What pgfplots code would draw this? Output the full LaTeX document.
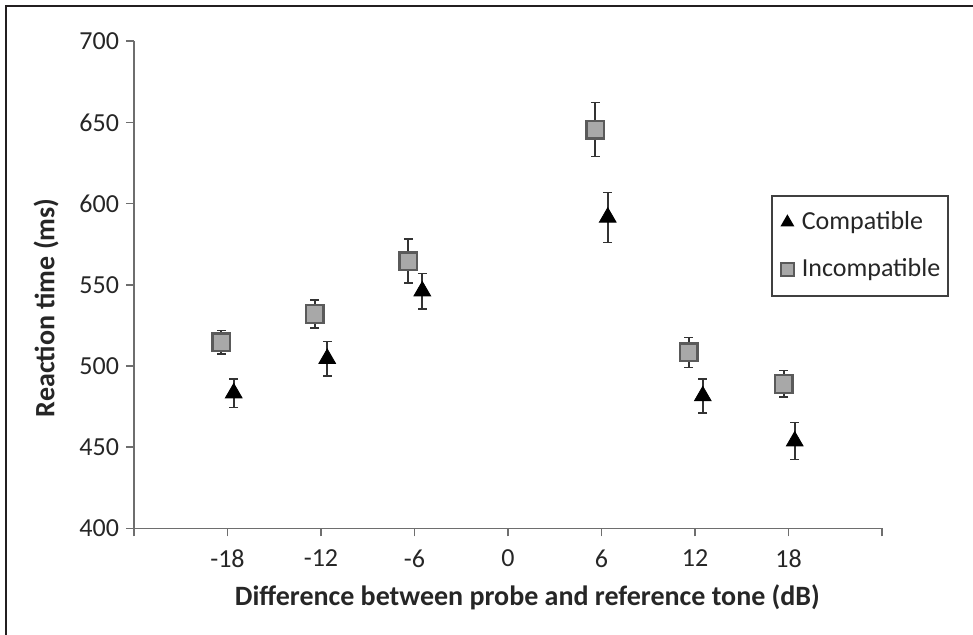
\documentclass[border=0pt]{standalone}
\usepackage{fontspec}
\setmainfont{Carlito}
\usepackage{pgfplots}
\pgfplotsset{compat=1.18}
\definecolor{axisgray}{HTML}{6E6E6E}
\definecolor{sqfill}{HTML}{A8A8A8}
\definecolor{sqdraw}{HTML}{5A5A5A}
\definecolor{txt}{HTML}{262626}
\definecolor{frame}{HTML}{231F20}

\begin{document}
\begin{tikzpicture}
\begin{axis}[
    scale only axis,
    width=374pt, height=243.6pt,
    xmin=-24, xmax=24, ymin=400, ymax=700,
    axis lines=left,
    axis line style={axisgray, line width=0.8pt, -},
    xtick={-24,-18,...,24},
    xticklabels={,-18,-12,-6,0,6,12,18,},
    ytick={400,450,...,700},
    tick align=outside,
    major tick length=4pt,
    tick style={axisgray, line width=0.8pt},
    tick label style={font=\fontsize{13}{15}\selectfont, text=txt},
    xticklabel style={yshift=-3pt},
    /pgf/number format/assume math mode=true,
    xlabel={\textbf{Difference between probe and reference tone (dB)}},
    ylabel={\textbf{Reaction time (ms)}},
    xlabel style={font=\fontsize{14}{16}\selectfont, text=txt, at={(axis description cs:0.526,-0.1406)}, anchor=center},
    ylabel style={font=\fontsize{14}{16}\selectfont, text=txt, at={(axis description cs:-0.1176,0.453)}, anchor=center},
    legend style={at={(0.8516,0.6845)}, anchor=north west, draw=black!75, line width=0.8pt,
        font=\fontsize{13}{15}\selectfont, text=txt, row sep=9pt, inner xsep=2pt, inner ysep=6pt},
    legend cell align=left,
    legend image code/.code={\draw[#1, mark size=3.2pt] plot coordinates {(0.25cm,0cm)};
        \path (0.06cm,0cm) (0.42cm,0cm);},
    error bars/error bar style={black!80, line width=0.8pt},
    error bars/error mark options={rotate=90, black!80, mark size=2.2pt, line width=0.8pt},
]
% Compatible
\addplot[only marks, mark=triangle*, mark size=4.8pt, mark options={fill=black, draw=black},
    error bars/.cd, y dir=both, y explicit] coordinates {
    (-17.6,483.4) +- (0,8.8)
    (-11.6,504.6) +- (0,10.6)
    (-5.5,546.2) +- (0,10.9)
    (6.4,591.6) +- (0,15.4)
    (12.5,481.6) +- (0,10.6)
    (18.4,453.8) +- (0,11.4)
};
\addlegendentry{Compatible}
% Incompatible
\addplot[only marks, mark=square*, mark size=4.4pt,
    mark options={fill=sqfill, draw=sqdraw, line width=1.2pt, rounded corners=1.5pt},
    error bars/.cd, y dir=both, y explicit] coordinates {
    (-18.4,514.7) +- (0,7.3)
    (-12.4,532.1) +- (0,8.5)
    (-6.4,564.6) +- (0,13.6)
    (5.6,645.6) +- (0,16.6)
    (11.6,508.4) +- (0,9.3)
    (17.7,489.0) +- (0,8.2)
};
\addlegendentry{Incompatible}
\end{axis}
\draw[frame, line width=1pt] (-64pt,-53.25pt) -- (-64pt,261.25pt) -- (419.5pt,261.25pt);
\pgfresetboundingbox
\path (-67pt,-53.25pt) rectangle (419.5pt,264.25pt);
\end{tikzpicture}
\end{document}
